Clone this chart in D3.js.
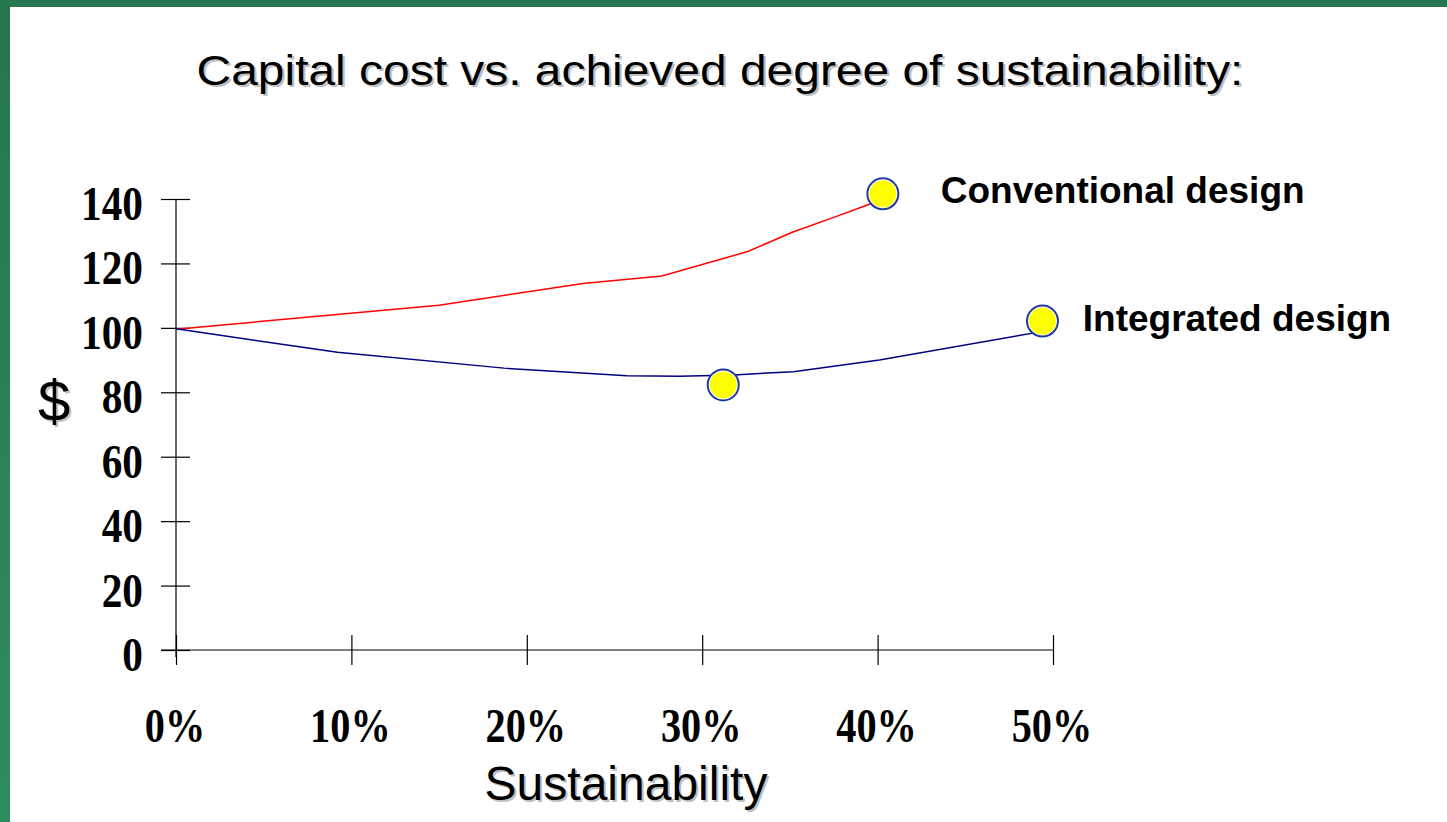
<!DOCTYPE html>
<html>
<head>
<meta charset="utf-8">
<script src="https://cdn.jsdelivr.net/npm/d3@7"></script>
<style>
  html, body { margin: 0; padding: 0; background: #fff; }
  svg { display: block; }
</style>
</head>
<body>
<svg id="chart" width="1447" height="822"></svg>
<script>
// ---- data ----
const titleText = "Capital cost vs. achieved degree of sustainability:";
const xTickValues = [0, 10, 20, 30, 40, 50];
const xTickLabels = ["0%", "10%", "20%", "30%", "40%", "50%"];
const yTickValues = [0, 20, 40, 60, 80, 100, 120, 140];
const yTickLabels = ["0", "20", "40", "60", "80", "100", "120", "140"];

const conventionalX = [0, 15, 23.2, 27.7, 32.6, 35.1, 37.5, 39.8, 40.3];
const conventionalY = [99.6, 107, 113.8, 116.1, 123.7, 129.6, 134.3, 138.9, 141.6];
const integratedX = [0, 9.2, 18.7, 25.7, 28.7, 31.8, 35.2, 40.1, 49.1, 49.4];
const integratedY = [99.7, 92.4, 87.5, 85.1, 85.0, 85.4, 86.4, 90.0, 98.6, 102.1];

const markerX = [40.3, 31.2, 49.4];
const markerY = [141.6, 82.3, 102.1];

const seriesNames = ["Conventional design", "Integrated design"];
const seriesLabelX = [43.6, 51.7];
const seriesLabelY = [142.5, 102.8];

// ---- drawing ----
const svg = d3.select("#chart");

// green frame
const defs = svg.append("defs");
const grad = defs.append("linearGradient").attr("id", "gfr").attr("x1", 0).attr("y1", 0).attr("x2", 0).attr("y2", 1);
grad.append("stop").attr("offset", "0%").attr("stop-color", "#267650");
grad.append("stop").attr("offset", "100%").attr("stop-color", "#2f8c5c");
svg.append("rect").attr("x", 0).attr("y", 0).attr("width", 1447).attr("height", 7).attr("fill", "#277850");
svg.append("rect").attr("x", 0).attr("y", 0).attr("width", 10).attr("height", 822).attr("fill", "url(#gfr)");

const x = d3.scaleLinear().domain([0, 50]).range([176, 1053]);
const y = d3.scaleLinear().domain([0, 140]).range([650, 199]);

function shadowText(g, txt, px, py, sx, attrs) {
  const grp = g.append("g").attr("transform", `translate(${px},${py}) scale(${sx},1)`);
  const s = grp.append("text").attr("x", 2).attr("y", 2).attr("fill", "#c0c0c0").text(txt);
  const t = grp.append("text").attr("x", 0).attr("y", 0).attr("fill", "#000").text(txt);
  for (const k in attrs) { s.attr(k, attrs[k]); t.attr(k, attrs[k]); }
}

// title
shadowText(svg, titleText, 720, 85, 1.115, {
  "font-family": "Liberation Sans, Arial, sans-serif", "font-size": 43, "text-anchor": "middle"
});

// $ label
shadowText(svg, "$", 54, 421, 1, {
  "font-family": "Liberation Sans, Arial, sans-serif", "font-size": 58, "text-anchor": "middle"
});

// x axis title
shadowText(svg, "Sustainability", 626, 800, 1, {
  "font-family": "Liberation Sans, Arial, sans-serif", "font-size": 48, "text-anchor": "middle"
});

// axes lines
svg.append("line").attr("x1", x(0)).attr("x2", x(0)).attr("y1", y(140)).attr("y2", y(0) + 7)
  .attr("stroke", "#000").attr("stroke-width", 1.2);
svg.append("line").attr("x1", x(0) - 15).attr("x2", x(50)).attr("y1", y(0)).attr("y2", y(0))
  .attr("stroke", "#000").attr("stroke-width", 1.2);

// y axis ticks
const yAxis = d3.axisLeft(y).tickValues(yTickValues).tickSize(15).tickFormat("");
const gy = svg.append("g").attr("transform", `translate(${x(0)},0)`).call(yAxis);
gy.select(".domain").remove();
gy.selectAll(".tick line").attr("x1", 14).attr("x2", -15).attr("stroke", "#000").attr("stroke-width", 1.2);

// x axis ticks
const xAxis = d3.axisBottom(x).tickValues(xTickValues).tickSize(15).tickFormat("");
const gx = svg.append("g").attr("transform", `translate(0,${y(0)})`).call(xAxis);
gx.select(".domain").remove();
gx.selectAll(".tick line").attr("y1", -15).attr("y2", 15).attr("stroke", "#000").attr("stroke-width", 1.2);

// y tick labels
yTickValues.forEach((v, i) => {
  svg.append("g").attr("transform", `translate(${x(0) - 33},${y(v) + 21})`)
    .append("text").attr("transform", "scale(0.86,1)")
    .attr("text-anchor", "end")
    .attr("font-family", "Liberation Serif, Times New Roman, serif")
    .attr("font-weight", "bold").attr("font-size", 48)
    .text(yTickLabels[i]);
});

// x tick labels
xTickValues.forEach((v, i) => {
  svg.append("g").attr("transform", `translate(${x(v) - 1},742)`)
    .append("text").attr("transform", "scale(0.84,1)")
    .attr("text-anchor", "middle")
    .attr("font-family", "Liberation Serif, Times New Roman, serif")
    .attr("font-weight", "bold").attr("font-size", 48)
    .text(xTickLabels[i]);
});

// lines
const line = d3.line().x(d => x(d[0])).y(d => y(d[1]));
svg.append("path").datum(conventionalX.map((v, i) => [v, conventionalY[i]]))
  .attr("d", line).attr("fill", "none").attr("stroke", "#ff0000").attr("stroke-width", 1.5);
svg.append("path").datum(integratedX.map((v, i) => [v, integratedY[i]]))
  .attr("d", line).attr("fill", "none").attr("stroke", "#000080").attr("stroke-width", 1.5);

// markers
const mk = svg.selectAll("g.mk").data(markerX.map((v, i) => [v, markerY[i]])).enter()
  .append("g").attr("class", "mk").attr("transform", d => `translate(${x(d[0])},${y(d[1])})`);
mk.append("circle").attr("r", 15.5).attr("fill", "#fff").attr("stroke", "#1f3a9e").attr("stroke-width", 2);
mk.append("circle").attr("r", 13.5).attr("fill", "#ffff00");

// series labels
seriesNames.forEach((n, i) => {
  svg.append("text").attr("x", x(seriesLabelX[i])).attr("y", y(seriesLabelY[i]) + 12)
    .attr("font-family", "Liberation Sans, Arial, sans-serif")
    .attr("font-weight", "bold").attr("font-size", 37)
    .attr("fill", "#000").text(n);
});
</script>
</body>
</html>
